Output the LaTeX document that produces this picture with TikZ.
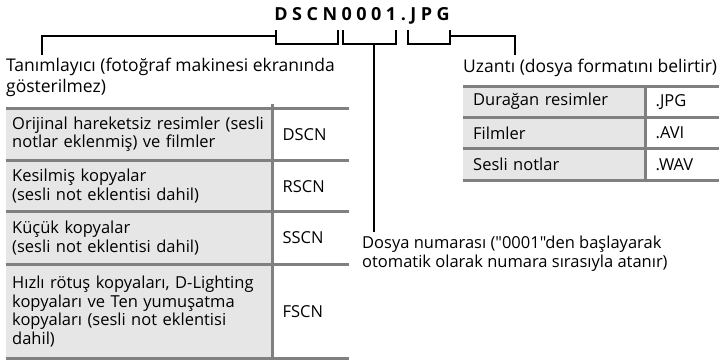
\documentclass[tikz,border=0pt]{standalone}
\usepackage{fontspec}
\setmainfont{Open Sans}[Ligatures=TeXOff]
\usepackage{xcolor}
\usetikzlibrary{positioning}
\definecolor{rulegray}{HTML}{808080}
\definecolor{cellgray}{HTML}{E6E6E6}
\tikzset{
  lbl/.style={inner sep=0pt, anchor=north west, align=left,
              font=\fontsize{17.5}{21.5}\selectfont},
  cell/.style={anchor=north west, inner ysep=0pt, align=left,
               font=\fontsize{16.5}{18.5}\selectfont},
  keycell/.style={cell, fill=cellgray},
  valcell/.style={cell, fill=white},
  rule/.style={draw=rulegray, line width=3pt},
  brk/.style={draw=black, line width=1.6pt}
}

\begin{document}
\begin{tikzpicture}[x=1pt, y=-1pt]
  \useasboundingbox (0,0) rectangle (719,360);
  % file name
  \node[anchor=base, inner sep=0pt,
        font=\fontsize{18}{18}\selectfont\bfseries\addfontfeature{LetterSpace=25}]
        (fname) at (362,20) {DSCN0001.JPG};

  % labels
  \node[lbl] (idlbl) at (6,57.5) {Tanımlayıcı (fotoğraf makinesi ekranında\\gösterilmez)};
  \node[lbl] (extlbl) at (463,58.5) {Uzantı (dosya formatını belirtir)};
  \node[lbl, font=\fontsize{16.5}{19}\selectfont] (numlbl) at (362,235.5)
        {Dosya numarası ("0001"den başlayarak\\otomatik olarak numara sırasıyla atanır)};

  % identifier table
  \node[keycell, inner xsep=6pt, text width=254pt, minimum height=52pt] (k1) at (6,108)
        {Orijinal hareketsiz resimler (sesli\\notlar eklenmiş) ve filmler};
  \node[keycell, inner xsep=6pt, text width=254pt, minimum height=51pt] (k2) at (k1.south west)
        {Kesilmiş kopyalar\\(sesli not eklentisi dahil)};
  \node[keycell, inner xsep=6pt, text width=254pt, minimum height=52pt] (k3) at (k2.south west)
        {Küçük kopyalar\\(sesli not eklentisi dahil)};
  \node[keycell, inner xsep=6pt, text width=254pt, minimum height=94pt] (k4) at (k3.south west)
        {Hızlı rötuş kopyaları, D-Lighting\\kopyaları ve Ten yumuşatma\\kopyaları (sesli not eklentisi\\dahil)};
  \node[valcell, inner xsep=10pt, text width=56pt, minimum height=52pt] (v1) at (k1.north east) {DSCN};
  \node[valcell, inner xsep=10pt, text width=56pt, minimum height=51pt] (v2) at (k2.north east) {RSCN};
  \node[valcell, inner xsep=10pt, text width=56pt, minimum height=52pt] (v3) at (k3.north east) {SSCN};
  \node[valcell, inner xsep=10pt, text width=56pt, minimum height=94pt] (v4) at (k4.north east) {FSCN};
  \draw[rule] (k1.north west) -- (v1.north east);
  \draw[rule] (k2.north west) -- (v2.north east);
  \draw[rule] (k3.north west) -- (v3.north east);
  \draw[rule] (k4.north west) -- (v4.north east);
  \draw[rule] (k4.south west) -- (v4.south east);
  \draw[rule] ([yshift=4pt]v1.north west) -- (v4.south west);

  % extension table
  \node[keycell, inner xsep=10pt, text width=162pt, minimum height=31pt] (e1) at (463,86) {Durağan resimler};
  \node[keycell, inner xsep=10pt, text width=162pt, minimum height=31pt] (e2) at (e1.south west) {Filmler};
  \node[keycell, inner xsep=10pt, text width=162pt, minimum height=31pt] (e3) at (e2.south west) {Sesli notlar};
  \node[valcell, inner xsep=10pt, text width=54pt, minimum height=31pt] (x1) at (e1.north east) {.JPG};
  \node[valcell, inner xsep=10pt, text width=54pt, minimum height=31pt] (x2) at (e2.north east) {.AVI};
  \node[valcell, inner xsep=10pt, text width=54pt, minimum height=31pt] (x3) at (e3.north east) {.WAV};
  \draw[rule] (e1.north west) -- (x1.north east);
  \draw[rule] (e2.north west) -- (x2.north east);
  \draw[rule] (e3.north west) -- (x3.north east);
  \draw[rule] (e3.south west) -- (x3.south east);
  \draw[rule] (x1.north west) -- (x3.south west);

  % brackets under the file name
  \coordinate (sq1a) at (276,44); \coordinate (sq1b) at (338,44);
  \coordinate (sq2a) at (343,44); \coordinate (sq2b) at (396,44);
  \coordinate (sq3a) at (408,44); \coordinate (sq3b) at (450,44);
  \coordinate (sq2m) at (374,44);
  \coordinate (idtip) at (42,55);
  \coordinate (exttip) at (515,55);
  \coordinate (numtip) at (374,232);
  \draw[brk] ([yshift=14pt]sq1a) -- (sq1a) -- (sq1b) -- ([yshift=14pt]sq1b);
  \draw[brk] ([yshift=14pt]sq2a) -- (sq2a) -- (sq2b) -- ([yshift=14pt]sq2b);
  \draw[brk] ([yshift=14pt]sq3a) -- (sq3a) -- (sq3b) -- ([yshift=14pt]sq3b);
  \draw[brk] (idtip) |- ([yshift=8pt]sq1a);
  \draw[brk] (sq2m) -- (numtip);
  \draw[brk] ([yshift=8pt]sq3b) -| (exttip);
\end{tikzpicture}
\end{document}
